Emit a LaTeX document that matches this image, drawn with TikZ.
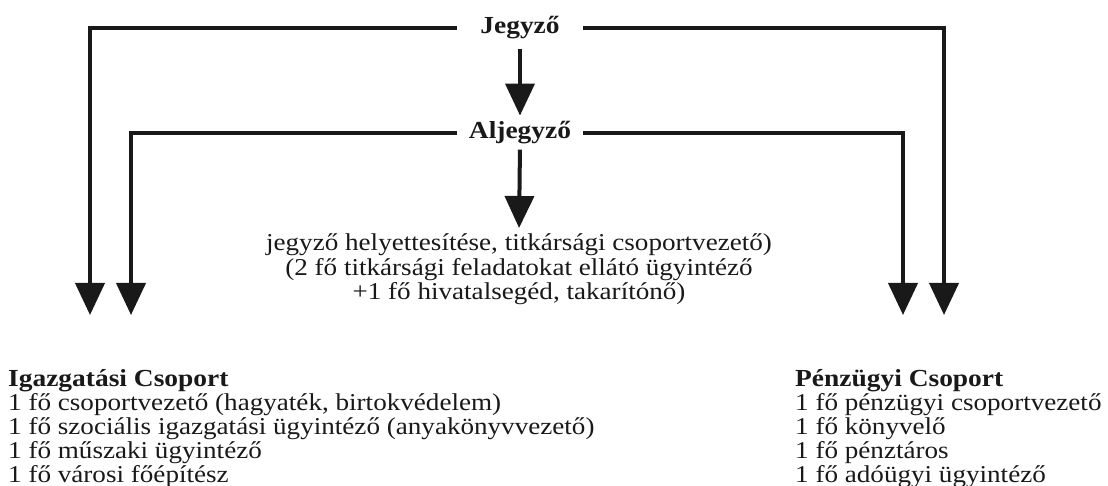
\documentclass[tikz,border=0pt]{standalone}
\usepackage{fontspec}
\setmainfont{Liberation Serif}[FakeStretch=1.12]
\usetikzlibrary{arrows.meta}
\begin{document}
\begin{tikzpicture}[x=1pt,y=-1pt,
  conn/.style={line width=4pt, line join=miter, color=black!90},
  arr/.style={conn, -{Triangle[width=29pt,length=32pt]}},
  ttl/.style={font=\fontsize{24.5}{26}\selectfont\bfseries, inner sep=0pt, text=black!90},
  txt/.style={font=\fontsize{24.2}{26}\selectfont, inner sep=0pt, text=black!90},
]
\useasboundingbox[fill=white] (0,0) rectangle (1108,486);
% top nodes
\node[ttl, anchor=base] (jegyzo) at (520,34) {Jegyző};
\node[ttl, anchor=base] (aljegyzo) at (520,139) {Aljegyző};
% centre text
\node[txt, anchor=base] (c1) at (519,251) {jegyző helyettesítése, titkársági csoportvezető)};
\node[txt, anchor=base] (c2) at (519,275.5) {(2 fő titkársági feladatokat ellátó ügyintéző};
\node[txt, anchor=base] (c3) at (519,300) {+1 fő hivatalsegéd, takarítónő)};
% left group
\node[ttl, anchor=base west] (ig) at (8,386) {Igazgatási Csoport};
\node[txt, anchor=base west] (ig1) at (8,410) {1 fő csoportvezető (hagyaték, birtokvédelem)};
\node[txt, anchor=base west] (ig2) at (8,434) {1 fő szociális igazgatási ügyintéző (anyakönyvvezető)};
\node[txt, anchor=base west] (ig3) at (8,458) {1 fő műszaki ügyintéző};
\node[txt, anchor=base west] (ig4) at (8,482) {1 fő városi főépítész};
% right group
\node[ttl, anchor=base west] (pe) at (795,386) {Pénzügyi Csoport};
\node[txt, anchor=base west] (pe1) at (795,410) {1 fő pénzügyi csoportvezető};
\node[txt, anchor=base west] (pe2) at (795,434) {1 fő könyvelő};
\node[txt, anchor=base west] (pe3) at (795,458) {1 fő pénztáros};
\node[txt, anchor=base west] (pe4) at (795,482) {1 fő adóügyi ügyintéző};
% connector ends
\coordinate (jw) at (457,28);
\coordinate (je) at (583,28);
\coordinate (aw) at (457,133);
\coordinate (ae) at (583,133);
\coordinate (igA) at (90,315);
\coordinate (igB) at (131,315);
\coordinate (peA) at (903,315);
\coordinate (peB) at (944,315);
% connectors
\draw[arr] (jw) -| (igA);
\draw[arr] (je) -| (peB);
\draw[arr] (aw) -| (igB);
\draw[arr] (ae) -| (peA);
\draw[arr, shorten <=9pt, shorten >=6pt] (jegyzo.south) -- (aljegyzo.north);
\draw[arr, shorten <=5pt, shorten >=6pt] (aljegyzo.south) -- (c1.north);
\end{tikzpicture}
\end{document}
